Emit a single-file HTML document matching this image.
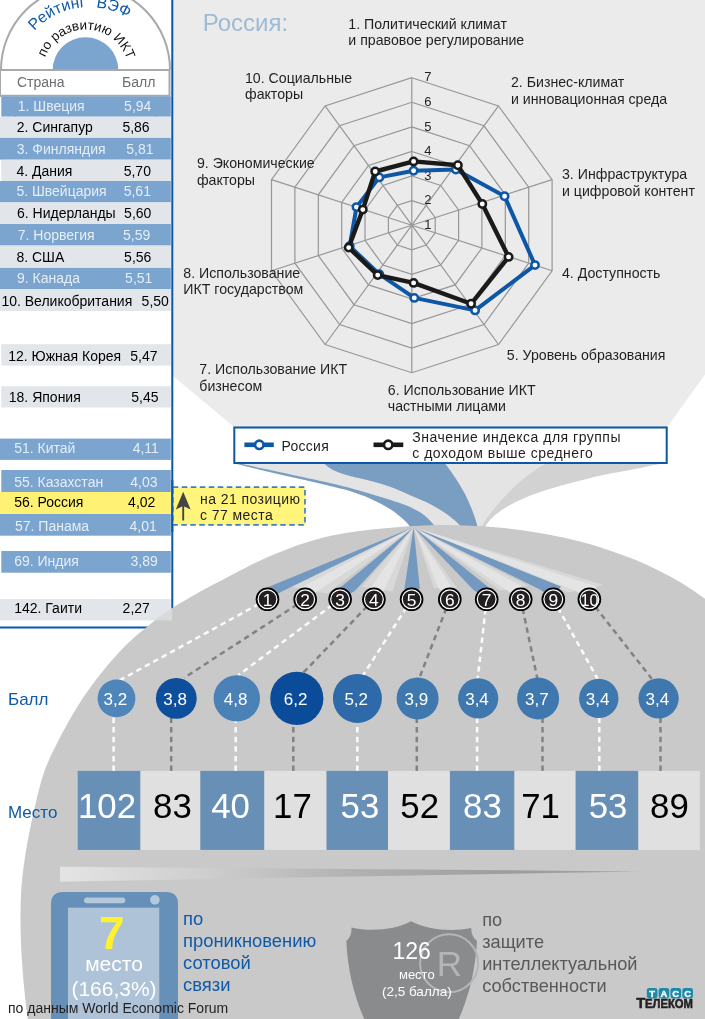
<!DOCTYPE html>
<html lang="ru"><head><meta charset="utf-8"><title>Рейтинг ВЭФ по развитию ИКТ</title>
<style>
html,body{margin:0;padding:0;background:#fff;}
body{width:705px;height:1019px;overflow:hidden;font-family:"Liberation Sans",Arial,sans-serif;}
svg{display:block;}
text{font-family:"Liberation Sans",Arial,sans-serif;}
</style></head><body>
<svg width="705" height="1019" viewBox="0 0 705 1019">
<defs>
<linearGradient id="barg" x1="0" x2="1" y1="0" y2="0"><stop offset="0" stop-color="#e4e4e4"/><stop offset="0.25" stop-color="#cecece"/><stop offset="0.5" stop-color="#b2b2b2"/><stop offset="0.78" stop-color="#9c9c9c"/><stop offset="1" stop-color="#a6a6a6"/></linearGradient>
<clipPath id="ell"><path d="M30.0,1030.0 C29.4,1026.8 27.9,1021.0 26.7,1011.0 C25.5,1001.0 23.6,983.7 22.6,970.0 C21.6,956.3 20.8,942.7 20.6,929.0 C20.4,915.3 20.4,901.5 21.4,887.8 C22.4,874.1 24.2,861.3 26.7,846.7 C29.2,832.1 33.5,812.8 36.5,800.0 C39.5,787.2 41.7,779.0 45.0,769.8 C48.3,760.6 52.5,752.5 56.3,744.8 C60.1,737.0 63.5,730.7 67.7,723.3 C71.9,715.9 76.8,707.6 81.3,700.6 C85.8,693.6 90.0,687.8 94.9,681.3 C99.8,674.8 105.0,668.1 110.8,661.5 C116.6,654.9 123.5,647.5 129.5,641.8 C135.4,636.1 141.6,631.3 146.5,627.3 C151.4,623.2 154.6,620.6 158.8,617.5 C163.0,614.4 166.9,611.6 171.5,608.6 C176.1,605.6 181.1,602.7 186.5,599.5 C191.9,596.3 198.7,592.4 204.0,589.5 C209.3,586.6 213.6,584.5 218.4,582.0 C223.2,579.5 227.9,577.0 232.6,574.5 C237.3,572.0 242.0,569.6 246.7,567.2 C251.4,564.8 256.2,562.5 260.9,560.3 C265.6,558.1 270.2,556.0 275.1,554.0 C280.0,552.0 285.9,549.8 290.0,548.2 C294.1,546.6 293.0,546.7 300.0,544.6 C307.0,542.5 321.0,538.0 332.0,535.6 C343.0,533.2 354.7,531.6 366.0,530.2 C377.3,528.8 387.7,527.9 400.0,527.0 C412.3,526.1 425.8,525.1 440.0,525.0 C454.2,524.9 472.1,525.8 485.4,526.6 C498.7,527.4 510.1,528.8 520.0,530.0 C529.9,531.2 537.0,532.6 545.0,534.0 C553.0,535.4 560.1,536.9 567.7,538.6 C575.3,540.3 582.8,542.1 590.4,544.3 C598.0,546.5 605.5,549.1 613.1,551.7 C620.7,554.3 628.2,557.0 635.8,560.1 C643.4,563.2 650.9,566.6 658.5,570.4 C666.1,574.2 673.5,578.1 681.2,582.8 C689.0,587.5 696.9,593.0 705.0,598.7 C713.1,604.4 725.8,614.0 730.0,617.0 L730,1030 Z"/></clipPath>
</defs>
<rect width="705" height="1019" fill="#fff"/>

<g id="funnel">
<path d="M173,0 L705,0 L705,374.5 L667.6,426.4 L667.6,450 L233.8,450 L233.8,426.7 L173,376 Z" fill="#ebebeb"/>
<path d="M666.7,462.5 C661.4,463.6 645.6,466.9 635.0,469.0 C624.4,471.1 614.1,472.6 603.3,475.0 C592.5,477.4 581.1,480.2 570.0,483.3 C558.9,486.4 546.7,489.7 536.7,493.3 C526.7,496.9 517.2,501.1 510.0,505.0 C502.8,508.9 497.5,513.1 493.3,516.7 C489.1,520.3 486.6,524.2 485.0,526.7 C483.4,529.2 483.8,531.1 483.5,532.0 L470,532 L470,455 L666.7,455 Z" fill="#d2d2d2"/>
<path d="M548.0,462.0 C545.7,463.5 538.7,467.7 534.0,471.0 C529.3,474.3 524.2,478.2 520.0,481.7 C515.8,485.2 512.3,488.7 509.0,492.0 C505.7,495.3 502.8,498.5 500.0,501.7 C497.2,504.9 494.7,508.2 492.5,511.0 C490.3,513.8 488.5,515.7 486.7,518.3 C484.9,520.9 482.7,524.4 481.7,526.7 C480.7,529.0 480.7,531.1 480.5,532.0 L405,532 L411.0,532.0 C410.7,531.0 410.7,528.2 409.4,526.0 C408.1,523.8 406.2,521.8 403.0,519.0 C399.8,516.2 395.5,512.4 390.0,509.0 C384.5,505.6 376.7,501.5 370.0,498.5 C363.3,495.5 356.7,493.1 350.0,491.0 C343.3,488.9 337.5,487.8 330.0,486.0 C322.5,484.2 313.3,481.9 305.0,480.0 C296.7,478.1 288.3,476.3 280.0,474.4 C271.7,472.5 262.7,470.4 255.0,468.5 C247.3,466.6 237.5,464.2 234.0,463.3 L234,450 L548,450 Z" fill="#e4e4e4"/>
<path d="M234.0,463.3 C237.5,464.2 247.3,466.6 255.0,468.5 C262.7,470.4 271.7,472.5 280.0,474.4 C288.3,476.3 296.7,478.1 305.0,480.0 C313.3,481.9 322.5,484.2 330.0,486.0 C337.5,487.8 343.3,488.9 350.0,491.0 C356.7,493.1 363.3,495.5 370.0,498.5 C376.7,501.5 384.5,505.6 390.0,509.0 C395.5,512.4 399.8,516.2 403.0,519.0 C406.2,521.8 408.1,523.8 409.4,526.0 C410.7,528.2 410.7,531.0 411.0,532.0 L437.0,532.0 C436.6,531.0 436.8,528.8 434.6,526.0 C432.4,523.2 428.3,518.2 424.0,515.0 C419.7,511.8 414.7,509.2 409.0,506.6 C403.3,504.1 396.5,501.9 390.0,499.7 C383.5,497.5 376.7,495.6 370.0,493.7 C363.3,491.8 356.7,489.8 350.0,488.0 C343.3,486.2 338.3,484.9 330.0,483.0 C321.7,481.1 310.0,478.7 300.0,476.5 C290.0,474.3 281.0,472.3 270.0,470.0 C259.0,467.7 240.0,463.8 234.0,462.6 Z" fill="#7a9ec2"/>
<path d="M322.0,462.0 C324.0,463.4 329.3,468.2 334.0,470.5 C338.7,472.8 344.0,474.3 350.0,476.0 C356.0,477.7 363.3,479.0 370.0,480.8 C376.7,482.6 383.5,484.5 390.0,486.8 C396.5,489.1 402.3,491.8 409.0,494.7 C415.7,497.6 423.5,500.6 430.0,504.0 C436.5,507.4 442.9,511.3 448.0,515.0 C453.1,518.7 457.9,523.2 460.4,526.0 C462.9,528.8 462.6,531.0 463.0,532.0 L478.5,532.0 C478.3,531.0 478.1,528.8 477.3,526.0 C476.6,523.2 475.2,518.5 474.0,515.0 C472.8,511.5 471.4,508.3 470.0,505.0 C468.6,501.7 467.2,498.3 465.5,495.0 C463.8,491.7 462.1,488.7 459.8,485.0 C457.6,481.3 454.6,476.8 452.0,473.0 C449.4,469.2 445.3,463.8 444.0,462.0 Z" fill="#7a9ec2"/>
</g>
<g id="table">
<rect x="0" y="0" width="171" height="627.5" fill="#fff"/>
<circle cx="85.5" cy="70" r="84.5" fill="#fff" stroke="#a7a9ac" stroke-width="2"/>
<path d="M52.7,70 A32.8,32.8 0 0 1 118.3,70 Z" fill="#7ba4cf"/>
<rect x="0" y="69.4" width="171" height="27" fill="#fff"/>
<path d="M0,70.1 L170.5,70.1 M0,95.7 L170.5,95.7 M169.5,69.1 L169.5,96.7" stroke="#a7a9ac" stroke-width="2" fill="none"/>
<path d="M0.5,69.1 L0.5,96.7" stroke="#a7a9ac" stroke-width="1" fill="none"/>
<text x="17" y="86.8" font-size="14" fill="#6d6e71">Страна</text>
<text x="122" y="86.8" font-size="14" fill="#6d6e71">Балл</text>
<path id="arc1" d="M15,81 A74,74 0 0 1 163,81" fill="none"/>
<path id="arc2" d="M42.2,73 A43.5,43.5 0 0 1 129.2,73" fill="none"/>
<text font-size="15.8" fill="#0f5aa8"><textPath href="#arc1" startOffset="23.6%">Рейтинг</textPath></text>
<text font-size="15.8" fill="#0f5aa8"><textPath href="#arc1" startOffset="53%">ВЭФ</textPath></text>
<text font-size="13.4" fill="#111"><textPath href="#arc2" startOffset="50.8%" text-anchor="middle">по развитию ИКТ</textPath></text>
<rect x="1.3" y="96.4" width="169.5" height="20.3" fill="#7ba4cf"/>
<text x="17.8" y="111.3" font-size="14" fill="#e4eef8">1. Швеция</text>
<text x="124.1" y="111.3" font-size="14" fill="#e4eef8">5,94</text>
<rect x="0" y="116.7" width="170.8" height="21.2" fill="#e2e6ea"/>
<text x="16.8" y="131.7" font-size="14" fill="#000">2. Сингапур</text>
<text x="122.4" y="131.7" font-size="14" fill="#000">5,86</text>
<rect x="0" y="137.9" width="170.8" height="21.8" fill="#7ba4cf"/>
<text x="16.8" y="154.4" font-size="14" fill="#e4eef8">3. Финляндия</text>
<text x="126.3" y="154.4" font-size="14" fill="#e4eef8">5,81</text>
<rect x="1.3" y="159.7" width="169.5" height="21.3" fill="#e2e6ea"/>
<text x="16.4" y="175.8" font-size="14" fill="#000">4. Дания</text>
<text x="123.7" y="175.8" font-size="14" fill="#000">5,70</text>
<rect x="0" y="181.0" width="170.8" height="21.4" fill="#7ba4cf"/>
<text x="16.4" y="196.4" font-size="14" fill="#e4eef8">5. Швейцария</text>
<text x="123.7" y="196.4" font-size="14" fill="#e4eef8">5,61</text>
<rect x="0" y="202.4" width="170.8" height="21.6" fill="#e2e6ea"/>
<text x="17" y="217.6" font-size="14" fill="#000">6. Нидерланды</text>
<text x="124.1" y="217.6" font-size="14" fill="#000">5,60</text>
<rect x="0" y="224.0" width="170.8" height="21.6" fill="#7ba4cf"/>
<text x="17.8" y="239.9" font-size="14" fill="#e4eef8">7. Норвегия</text>
<text x="123" y="239.9" font-size="14" fill="#e4eef8">5,59</text>
<rect x="0" y="245.6" width="170.8" height="22.3" fill="#e2e6ea"/>
<text x="16.4" y="262.2" font-size="14" fill="#000">8. США</text>
<text x="124.1" y="262.2" font-size="14" fill="#000">5,56</text>
<rect x="0" y="267.9" width="170.8" height="21.4" fill="#7ba4cf"/>
<text x="17" y="282.6" font-size="14" fill="#e4eef8">9. Канада</text>
<text x="125.1" y="282.6" font-size="14" fill="#e4eef8">5,51</text>
<rect x="0" y="289.3" width="170.8" height="21.7" fill="#e2e6ea"/>
<text x="1.4" y="306" font-size="14" fill="#000">10. Великобритания</text>
<text x="141.6" y="306" font-size="14" fill="#000">5,50</text>
<rect x="1.3" y="344.2" width="169.5" height="21.4" fill="#e2e6ea"/>
<text x="8.2" y="360.6" font-size="14" fill="#000">12. Южная Корея</text>
<text x="130.3" y="360.6" font-size="14" fill="#000">5,47</text>
<rect x="1.3" y="386.2" width="169.5" height="21.3" fill="#e2e6ea"/>
<text x="8.8" y="402.3" font-size="14" fill="#000">18. Япония</text>
<text x="131.3" y="402.3" font-size="14" fill="#000">5,45</text>
<rect x="0" y="438.6" width="170.8" height="21.3" fill="#7ba4cf"/>
<text x="14.2" y="452.8" font-size="14" fill="#e4eef8">51. Китай</text>
<text x="132.7" y="452.8" font-size="14" fill="#e4eef8">4,11</text>
<rect x="1.3" y="470.0" width="169.5" height="22.0" fill="#7ba4cf"/>
<text x="14.2" y="486.6" font-size="14" fill="#e4eef8">55. Казахстан</text>
<text x="130.3" y="486.6" font-size="14" fill="#e4eef8">4,03</text>
<rect x="0" y="492.0" width="170.8" height="22.0" fill="#fff173"/>
<text x="14.2" y="507.2" font-size="14" fill="#000">56. Россия</text>
<text x="128.1" y="507.2" font-size="14" fill="#000">4,02</text>
<rect x="0" y="514.0" width="170.8" height="21.7" fill="#7ba4cf"/>
<text x="15" y="530.7" font-size="14" fill="#e4eef8">57. Панама</text>
<text x="129.5" y="530.7" font-size="14" fill="#e4eef8">4,01</text>
<rect x="1.3" y="551.0" width="169.5" height="21.7" fill="#7ba4cf"/>
<text x="14.2" y="566" font-size="14" fill="#e4eef8">69. Индия</text>
<text x="130.5" y="566" font-size="14" fill="#e4eef8">3,89</text>
<path d="M172.3,0 L172.3,627.5 L0,627.5" stroke="#0d57a6" stroke-width="2" fill="none"/>
</g>
<rect x="0" y="599.1" width="170.8" height="21.3" fill="#e2e6ea"/>
<path d="M30.0,1030.0 C29.4,1026.8 27.9,1021.0 26.7,1011.0 C25.5,1001.0 23.6,983.7 22.6,970.0 C21.6,956.3 20.8,942.7 20.6,929.0 C20.4,915.3 20.4,901.5 21.4,887.8 C22.4,874.1 24.2,861.3 26.7,846.7 C29.2,832.1 33.5,812.8 36.5,800.0 C39.5,787.2 41.7,779.0 45.0,769.8 C48.3,760.6 52.5,752.5 56.3,744.8 C60.1,737.0 63.5,730.7 67.7,723.3 C71.9,715.9 76.8,707.6 81.3,700.6 C85.8,693.6 90.0,687.8 94.9,681.3 C99.8,674.8 105.0,668.1 110.8,661.5 C116.6,654.9 123.5,647.5 129.5,641.8 C135.4,636.1 141.6,631.3 146.5,627.3 C151.4,623.2 154.6,620.6 158.8,617.5 C163.0,614.4 166.9,611.6 171.5,608.6 C176.1,605.6 181.1,602.7 186.5,599.5 C191.9,596.3 198.7,592.4 204.0,589.5 C209.3,586.6 213.6,584.5 218.4,582.0 C223.2,579.5 227.9,577.0 232.6,574.5 C237.3,572.0 242.0,569.6 246.7,567.2 C251.4,564.8 256.2,562.5 260.9,560.3 C265.6,558.1 270.2,556.0 275.1,554.0 C280.0,552.0 285.9,549.8 290.0,548.2 C294.1,546.6 293.0,546.7 300.0,544.6 C307.0,542.5 321.0,538.0 332.0,535.6 C343.0,533.2 354.7,531.6 366.0,530.2 C377.3,528.8 387.7,527.9 400.0,527.0 C412.3,526.1 425.8,525.1 440.0,525.0 C454.2,524.9 472.1,525.8 485.4,526.6 C498.7,527.4 510.1,528.8 520.0,530.0 C529.9,531.2 537.0,532.6 545.0,534.0 C553.0,535.4 560.1,536.9 567.7,538.6 C575.3,540.3 582.8,542.1 590.4,544.3 C598.0,546.5 605.5,549.1 613.1,551.7 C620.7,554.3 628.2,557.0 635.8,560.1 C643.4,563.2 650.9,566.6 658.5,570.4 C666.1,574.2 673.5,578.1 681.2,582.8 C689.0,587.5 696.9,593.0 705.0,598.7 C713.1,604.4 725.8,614.0 730.0,617.0 L730,1030 Z" fill="#c9c9c9"/>
<rect x="0" y="599.1" width="172" height="21.3" fill="#e2e6ea" opacity="0.6" clip-path="url(#ell)"/>
<text x="14.2" y="613.3" font-size="14" fill="#000">142. Гаити</text>
<text x="122.6" y="613.3" font-size="14" fill="#000">2,27</text>
<path d="M413.6,527.2 L289.5,586.3 L327.2,593.6 Z" fill="#d8d8d8"/>
<path d="M413.6,527.2 L361.6,587.1 L392.4,591.5 Z" fill="#d8d8d8"/>
<path d="M413.6,527.2 L434.0,588.0 L456.8,588.0 Z" fill="#d8d8d8"/>
<path d="M413.6,527.2 L500.0,590.5 L527.8,585.5 Z" fill="#d8d8d8"/>
<path d="M413.6,527.2 L568.4,592.6 L603.9,584.9 Z" fill="#d8d8d8"/>
<path d="M413.6,527.2 L265.3,588.3 L267.5,599.3 L281.9,591.6 Z" fill="#7399c0"/>
<path d="M413.6,527.2 L299.8,588.3 L305.2,599.3 L316.9,591.6 Z" fill="#e4e4e4"/>
<path d="M413.6,527.2 L339.4,588.3 L340.1,599.3 L354.7,591 Z" fill="#7399c0"/>
<path d="M413.6,527.2 L370,588.3 L373.9,599.3 L384,590.3 Z" fill="#e4e4e4"/>
<path d="M413.6,527.2 L404.5,588.3 L411.6,599.3 L419.8,588.3 Z" fill="#7399c0"/>
<path d="M413.6,527.2 L438.7,588 L449.8,599.3 L452.1,588 Z" fill="#e4e4e4"/>
<path d="M413.6,527.2 L473,589.5 L486.7,599.3 L489.4,588 Z" fill="#7399c0"/>
<path d="M413.6,527.2 L505.7,589.5 L520.7,599.3 L522.1,586.5 Z" fill="#e4e4e4"/>
<path d="M413.6,527.2 L540,589.5 L553.3,599.3 L560.9,586.5 Z" fill="#7399c0"/>
<path d="M413.6,527.2 L575.7,591 L589.4,599.3 L596.6,586.5 Z" fill="#e4e4e4"/>
<path d="M267.5,599.3 L118.2,681.1" stroke="#fbfbfb" stroke-width="2.5" stroke-dasharray="5.5,4.1" fill="none"/>
<path d="M113.6,771 L113.6,714.3" stroke="#fbfbfb" stroke-width="2.5" stroke-dasharray="5.5,4.1" fill="none"/>
<path d="M305.2,599.3 L184.2,677.8" stroke="#828282" stroke-width="2.5" stroke-dasharray="5.5,4.1" fill="none"/>
<path d="M171.2,771 L171.2,715.8" stroke="#828282" stroke-width="2.5" stroke-dasharray="5.5,4.1" fill="none"/>
<path d="M340.1,599.3 L238.5,675.0" stroke="#fbfbfb" stroke-width="2.5" stroke-dasharray="5.5,4.1" fill="none"/>
<path d="M235.7,771 L235.7,718.6" stroke="#fbfbfb" stroke-width="2.5" stroke-dasharray="5.5,4.1" fill="none"/>
<path d="M373.9,599.3 L302.7,673.3" stroke="#828282" stroke-width="2.5" stroke-dasharray="5.5,4.1" fill="none"/>
<path d="M293.3,771 L293.3,722.0" stroke="#828282" stroke-width="2.5" stroke-dasharray="5.5,4.1" fill="none"/>
<path d="M411.6,599.3 L362.6,676.0" stroke="#fbfbfb" stroke-width="2.5" stroke-dasharray="5.5,4.1" fill="none"/>
<path d="M357.3,771 L357.3,719.9" stroke="#fbfbfb" stroke-width="2.5" stroke-dasharray="5.5,4.1" fill="none"/>
<path d="M449.8,599.3 L417.8,682.0" stroke="#828282" stroke-width="2.5" stroke-dasharray="5.5,4.1" fill="none"/>
<path d="M416.8,771 L416.8,716.4" stroke="#828282" stroke-width="2.5" stroke-dasharray="5.5,4.1" fill="none"/>
<path d="M486.7,599.3 L477.2,682.3" stroke="#fbfbfb" stroke-width="2.5" stroke-dasharray="5.5,4.1" fill="none"/>
<path d="M477.1,771 L477.1,715.5" stroke="#fbfbfb" stroke-width="2.5" stroke-dasharray="5.5,4.1" fill="none"/>
<path d="M520.7,599.3 L537.4,678.7" stroke="#828282" stroke-width="2.5" stroke-dasharray="5.5,4.1" fill="none"/>
<path d="M542.5,771 L542.5,716.4" stroke="#828282" stroke-width="2.5" stroke-dasharray="5.5,4.1" fill="none"/>
<path d="M553.3,599.3 L599.2,681.8" stroke="#fbfbfb" stroke-width="2.5" stroke-dasharray="5.5,4.1" fill="none"/>
<path d="M599.3,771 L599.3,715.1" stroke="#fbfbfb" stroke-width="2.5" stroke-dasharray="5.5,4.1" fill="none"/>
<path d="M589.4,599.3 L651.7,678.7" stroke="#828282" stroke-width="2.5" stroke-dasharray="5.5,4.1" fill="none"/>
<path d="M660.5,771 L660.5,715.5" stroke="#828282" stroke-width="2.5" stroke-dasharray="5.5,4.1" fill="none"/>
<circle cx="267.5" cy="599.3" r="11.8" fill="#000"/>
<circle cx="267.5" cy="599.3" r="9.4" fill="#231f20" stroke="#fff" stroke-width="1.25"/>
<text x="267.5" y="605.5" font-size="17.4" fill="#fff" text-anchor="middle">1</text>
<circle cx="305.2" cy="599.3" r="11.8" fill="#000"/>
<circle cx="305.2" cy="599.3" r="9.4" fill="#231f20" stroke="#fff" stroke-width="1.25"/>
<text x="305.2" y="605.5" font-size="17.4" fill="#fff" text-anchor="middle">2</text>
<circle cx="340.1" cy="599.3" r="11.8" fill="#000"/>
<circle cx="340.1" cy="599.3" r="9.4" fill="#231f20" stroke="#fff" stroke-width="1.25"/>
<text x="340.1" y="605.5" font-size="17.4" fill="#fff" text-anchor="middle">3</text>
<circle cx="373.9" cy="599.3" r="11.8" fill="#000"/>
<circle cx="373.9" cy="599.3" r="9.4" fill="#231f20" stroke="#fff" stroke-width="1.25"/>
<text x="373.9" y="605.5" font-size="17.4" fill="#fff" text-anchor="middle">4</text>
<circle cx="411.6" cy="599.3" r="11.8" fill="#000"/>
<circle cx="411.6" cy="599.3" r="9.4" fill="#231f20" stroke="#fff" stroke-width="1.25"/>
<text x="411.6" y="605.5" font-size="17.4" fill="#fff" text-anchor="middle">5</text>
<circle cx="449.8" cy="599.3" r="11.8" fill="#000"/>
<circle cx="449.8" cy="599.3" r="9.4" fill="#231f20" stroke="#fff" stroke-width="1.25"/>
<text x="449.8" y="605.5" font-size="17.4" fill="#fff" text-anchor="middle">6</text>
<circle cx="486.7" cy="599.3" r="11.8" fill="#000"/>
<circle cx="486.7" cy="599.3" r="9.4" fill="#231f20" stroke="#fff" stroke-width="1.25"/>
<text x="486.7" y="605.5" font-size="17.4" fill="#fff" text-anchor="middle">7</text>
<circle cx="520.7" cy="599.3" r="11.8" fill="#000"/>
<circle cx="520.7" cy="599.3" r="9.4" fill="#231f20" stroke="#fff" stroke-width="1.25"/>
<text x="520.7" y="605.5" font-size="17.4" fill="#fff" text-anchor="middle">8</text>
<circle cx="553.3" cy="599.3" r="11.8" fill="#000"/>
<circle cx="553.3" cy="599.3" r="9.4" fill="#231f20" stroke="#fff" stroke-width="1.25"/>
<text x="553.3" y="605.5" font-size="17.4" fill="#fff" text-anchor="middle">9</text>
<circle cx="589.4" cy="599.3" r="11.8" fill="#000"/>
<circle cx="589.4" cy="599.3" r="9.4" fill="#231f20" stroke="#fff" stroke-width="1.25"/>
<text x="580.4" y="605.5" font-size="17.4" fill="#fff" textLength="18" lengthAdjust="spacingAndGlyphs">10</text>
<circle cx="116.5" cy="698.4" r="18.9" fill="#4f86b9"/>
<text x="115.3" y="705" font-size="17" fill="#fff" text-anchor="middle">3,2</text>
<circle cx="176.3" cy="698.4" r="20.4" fill="#0d4f9c"/>
<text x="175.1" y="705" font-size="17" fill="#fff" text-anchor="middle">3,8</text>
<circle cx="236.8" cy="698.4" r="23.2" fill="#4a82b7"/>
<text x="235.6" y="705" font-size="17" fill="#fff" text-anchor="middle">4,8</text>
<circle cx="296.8" cy="698.4" r="26.6" fill="#0a4c99"/>
<text x="295.6" y="705" font-size="17" fill="#fff" text-anchor="middle">6,2</text>
<circle cx="357.4" cy="698.4" r="24.5" fill="#2e6aa9"/>
<text x="356.2" y="705" font-size="17" fill="#fff" text-anchor="middle">5,2</text>
<circle cx="417.6" cy="698.4" r="21" fill="#3f78af"/>
<text x="416.4" y="705" font-size="17" fill="#fff" text-anchor="middle">3,9</text>
<circle cx="478.2" cy="698.4" r="20.1" fill="#3f78af"/>
<text x="477.0" y="705" font-size="17" fill="#fff" text-anchor="middle">3,4</text>
<circle cx="538.1" cy="698.4" r="21" fill="#3f78af"/>
<text x="536.9" y="705" font-size="17" fill="#fff" text-anchor="middle">3,7</text>
<circle cx="598.8" cy="698.4" r="19.7" fill="#3f78af"/>
<text x="597.6" y="705" font-size="17" fill="#fff" text-anchor="middle">3,4</text>
<circle cx="658.6" cy="698.4" r="20.1" fill="#3f78af"/>
<text x="657.4" y="705" font-size="17" fill="#fff" text-anchor="middle">3,4</text>
<rect x="77.7" y="770.9" width="63.00" height="79" fill="#6890b7"/>
<text x="107" y="818.1" font-size="34.8" fill="#fff" text-anchor="middle">102</text>
<rect x="140.4" y="770.9" width="60.20" height="79" fill="#e0e0e0"/>
<text x="172.4" y="818.1" font-size="34.8" fill="#000" text-anchor="middle">83</text>
<rect x="200.3" y="770.9" width="64.30" height="79" fill="#6890b7"/>
<text x="230.5" y="818.1" font-size="34.8" fill="#fff" text-anchor="middle">40</text>
<rect x="264.3" y="770.9" width="62.50" height="79" fill="#e0e0e0"/>
<text x="292.4" y="818.1" font-size="34.8" fill="#000" text-anchor="middle">17</text>
<rect x="326.5" y="770.9" width="61.80" height="79" fill="#6890b7"/>
<text x="359.9" y="818.1" font-size="34.8" fill="#fff" text-anchor="middle">53</text>
<rect x="388" y="770.9" width="62.20" height="79" fill="#e0e0e0"/>
<text x="419.7" y="818.1" font-size="34.8" fill="#000" text-anchor="middle">52</text>
<rect x="449.9" y="770.9" width="64.80" height="79" fill="#6890b7"/>
<text x="482.4" y="818.1" font-size="34.8" fill="#fff" text-anchor="middle">83</text>
<rect x="514.4" y="770.9" width="61.50" height="79" fill="#e0e0e0"/>
<text x="540.5" y="818.1" font-size="34.8" fill="#000" text-anchor="middle">71</text>
<rect x="575.6" y="770.9" width="63.00" height="79" fill="#6890b7"/>
<text x="608.1" y="818.1" font-size="34.8" fill="#fff" text-anchor="middle">53</text>
<rect x="638.3" y="770.9" width="61.60" height="79" fill="#e0e0e0"/>
<text x="669.4" y="818.1" font-size="34.8" fill="#000" text-anchor="middle">89</text>
<text x="8" y="705" font-size="17" fill="#0f5aa8">Балл</text>
<text x="8" y="818" font-size="17" fill="#0f5aa8">Место</text>
<path d="M60,866.8 L640,871.4 L60,881.8 Z" fill="url(#barg)"/>
<path d="M51,1019 L51,904 Q51,892 63,892 L166,892 Q178,892 178,904 L178,1019 Z" fill="#6690b8"/>
<rect x="68" y="907.7" width="91.3" height="112" fill="#aec3d8"/>
<rect x="84" y="897.4" width="41.3" height="5.8" rx="2.9" fill="#b5c8dc"/>
<circle cx="154.9" cy="899.8" r="4.8" fill="#b5c8dc"/>
<text x="111.7" y="949.2" font-size="46" font-weight="bold" fill="#fff22d" text-anchor="middle">7</text>
<text x="114" y="970.6" font-size="21" fill="#fff" text-anchor="middle">место</text>
<text x="114" y="996.2" font-size="21" fill="#fff" text-anchor="middle">(166,3%)</text>
<text x="183" y="925.4" font-size="18.4" fill="#0f5aa8">по</text>
<text x="183" y="947.1" font-size="18.4" fill="#0f5aa8">проникновению</text>
<text x="183" y="968.8" font-size="18.4" fill="#0f5aa8">сотовой</text>
<text x="183" y="990.5" font-size="18.4" fill="#0f5aa8">связи</text>
<path d="M411,921.3 C395,930 370,932 351.4,927.4 C352,933 350,938 346.3,941 C348,975 356,1005 372,1035 L451,1035 C467,1005 475,975 477,941 C473,938 471,933 471.3,928.1 C452,932 427,930 411,921.3 Z" fill="#8a8b8d"/>
<circle cx="449.1" cy="963.2" r="29" fill="none" stroke="#b4b5b7" stroke-width="2"/>
<text x="449.5" y="975.5" font-size="35" fill="#b4b5b7" text-anchor="middle">R</text>
<text x="411.7" y="959.1" font-size="23" fill="#fff" text-anchor="middle">126</text>
<text x="416.8" y="979.2" font-size="13" fill="#fff" text-anchor="middle">место</text>
<text x="416.8" y="995.5" font-size="13.5" fill="#fff" text-anchor="middle">(2,5 балла)</text>
<text x="482.2" y="925.6" font-size="18.2" fill="#58595b">по</text>
<text x="482.2" y="947.6" font-size="18.2" fill="#58595b">защите</text>
<text x="482.2" y="969.6" font-size="18.2" fill="#58595b">интеллектуальной</text>
<text x="482.2" y="991.6" font-size="18.2" fill="#58595b">собственности</text>
<text x="8" y="1013" font-size="14" fill="#231f20">по данным World Economic Forum</text>
<rect x="646.80" y="988" width="10.6" height="10.5" rx="2.4" fill="#1b8aaa"/>
<text x="652.10" y="996.9" font-size="9.5" font-weight="bold" fill="#fff" stroke="#fff" stroke-width="0.3" text-anchor="middle">Т</text>
<rect x="658.65" y="988" width="10.6" height="10.5" rx="2.4" fill="#1b8aaa"/>
<text x="663.95" y="996.9" font-size="9.5" font-weight="bold" fill="#fff" stroke="#fff" stroke-width="0.3" text-anchor="middle">А</text>
<rect x="670.50" y="988" width="10.6" height="10.5" rx="2.4" fill="#1b8aaa"/>
<text x="675.80" y="996.9" font-size="9.5" font-weight="bold" fill="#fff" stroke="#fff" stroke-width="0.3" text-anchor="middle">С</text>
<rect x="682.35" y="988" width="10.6" height="10.5" rx="2.4" fill="#1b8aaa"/>
<text x="687.65" y="996.9" font-size="9.5" font-weight="bold" fill="#fff" stroke="#fff" stroke-width="0.3" text-anchor="middle">С</text>
<text x="636.3" y="1008.3" font-size="15.5" font-weight="bold" fill="#231f20" stroke="#231f20" stroke-width="0.5" textLength="9" lengthAdjust="spacingAndGlyphs">Т</text>
<text x="645" y="1008.3" font-size="12.2" font-weight="bold" fill="#231f20" stroke="#231f20" stroke-width="0.5" textLength="48" lengthAdjust="spacingAndGlyphs">ЕЛЕКОМ</text>
<rect x="172.8" y="487.2" width="132.2" height="37.6" fill="#fff57a" stroke="#3f7fc1" stroke-width="1.7" stroke-dasharray="5.5,3.5"/>
<path d="M183.2,520.5 L183.2,503" stroke="#454547" stroke-width="1.9"/><path d="M175.8,509.5 L183.2,491.8 L190.6,509.5 L183.2,506 Z" fill="#454547"/>
<text x="200" y="503.6" font-size="14" fill="#231f20" letter-spacing="0.44">на 21 позицию</text>
<text x="200" y="519.8" font-size="14" fill="#231f20" letter-spacing="0.44">с 77 места</text>
<path d="M172.3,480 L172.3,532" stroke="#0d57a6" stroke-width="2" fill="none"/>
<g id="radar">
<polygon points="411.8,200.6 426.2,205.3 435.2,217.6 435.2,232.8 426.2,245.1 411.8,249.8 397.4,245.1 388.4,232.8 388.4,217.6 397.4,205.3" fill="none" stroke="#969799" stroke-width="1.2"/>
<polygon points="411.8,176.0 440.7,185.4 458.6,210.0 458.6,240.4 440.7,265.0 411.8,274.4 382.9,265.0 365.0,240.4 365.0,210.0 382.9,185.4" fill="none" stroke="#969799" stroke-width="1.2"/>
<polygon points="411.8,151.5 455.1,165.5 481.9,202.4 481.9,248.0 455.1,284.9 411.8,298.9 368.5,284.9 341.7,248.0 341.7,202.4 368.5,165.5" fill="none" stroke="#969799" stroke-width="1.2"/>
<polygon points="411.8,126.9 469.6,145.7 505.3,194.8 505.3,255.6 469.6,304.7 411.8,323.5 354.0,304.7 318.3,255.6 318.3,194.8 354.0,145.7" fill="none" stroke="#969799" stroke-width="1.2"/>
<polygon points="411.8,102.3 484.0,125.8 528.7,187.2 528.7,263.2 484.0,324.6 411.8,348.1 339.6,324.6 294.9,263.2 294.9,187.2 339.6,125.8" fill="none" stroke="#969799" stroke-width="1.2"/>
<polygon points="411.8,77.7 498.5,105.9 552.1,179.6 552.1,270.8 498.5,344.5 411.8,372.7 325.1,344.5 271.5,270.8 271.5,179.6 325.1,105.9" fill="none" stroke="#969799" stroke-width="1.2"/>
<path d="M411.8,225.2 L411.8,77.7" stroke="#969799" stroke-width="1.2"/>
<path d="M411.8,225.2 L498.5,105.9" stroke="#969799" stroke-width="1.2"/>
<path d="M411.8,225.2 L552.1,179.6" stroke="#969799" stroke-width="1.2"/>
<path d="M411.8,225.2 L552.1,270.8" stroke="#969799" stroke-width="1.2"/>
<path d="M411.8,225.2 L498.5,344.5" stroke="#969799" stroke-width="1.2"/>
<path d="M411.8,225.2 L411.8,372.7" stroke="#969799" stroke-width="1.2"/>
<path d="M411.8,225.2 L325.1,344.5" stroke="#969799" stroke-width="1.2"/>
<path d="M411.8,225.2 L271.5,270.8" stroke="#969799" stroke-width="1.2"/>
<path d="M411.8,225.2 L271.5,179.6" stroke="#969799" stroke-width="1.2"/>
<path d="M411.8,225.2 L325.1,105.9" stroke="#969799" stroke-width="1.2"/>
<text x="424.2" y="228.7" font-size="13" fill="#231f20">1</text>
<text x="424.2" y="204.3" font-size="13" fill="#231f20">2</text>
<text x="424.2" y="179.8" font-size="13" fill="#231f20">3</text>
<text x="424.2" y="154.9" font-size="13" fill="#231f20">4</text>
<text x="424.2" y="130.7" font-size="13" fill="#231f20">5</text>
<text x="424.2" y="105.6" font-size="13" fill="#231f20">6</text>
<text x="424.2" y="80.8" font-size="13" fill="#231f20">7</text>
<polygon points="413.6,170.8 455.8,169.6 504.6,196.3 535.0,265.1 475.1,310.4 414.3,297.9 379.3,274.2 349.7,246.1 356.5,207.1 379.3,177.4" fill="none" stroke="#0d57a6" stroke-width="4" stroke-linejoin="round"/>
<circle cx="413.6" cy="170.8" r="3.7" fill="#fff" stroke="#0d57a6" stroke-width="2.5"/>
<circle cx="455.8" cy="169.6" r="3.7" fill="#fff" stroke="#0d57a6" stroke-width="2.5"/>
<circle cx="504.6" cy="196.3" r="3.7" fill="#fff" stroke="#0d57a6" stroke-width="2.5"/>
<circle cx="535.0" cy="265.1" r="3.7" fill="#fff" stroke="#0d57a6" stroke-width="2.5"/>
<circle cx="475.1" cy="310.4" r="3.7" fill="#fff" stroke="#0d57a6" stroke-width="2.5"/>
<circle cx="414.3" cy="297.9" r="3.7" fill="#fff" stroke="#0d57a6" stroke-width="2.5"/>
<circle cx="379.3" cy="274.2" r="3.7" fill="#fff" stroke="#0d57a6" stroke-width="2.5"/>
<circle cx="349.7" cy="246.1" r="3.7" fill="#fff" stroke="#0d57a6" stroke-width="2.5"/>
<circle cx="356.5" cy="207.1" r="3.7" fill="#fff" stroke="#0d57a6" stroke-width="2.5"/>
<circle cx="379.3" cy="177.4" r="3.7" fill="#fff" stroke="#0d57a6" stroke-width="2.5"/>
<polygon points="413.6,161.4 457.9,165.3 482.3,204.0 508.6,256.9 471.1,303.8 413.6,282.9 377.7,275.1 348.7,247.6 362.8,209.6 375.2,171.5" fill="none" stroke="#1a1a1a" stroke-width="4.4" stroke-linejoin="round"/>
<circle cx="413.6" cy="161.4" r="3.7" fill="#fff" stroke="#1a1a1a" stroke-width="2.5"/>
<circle cx="457.9" cy="165.3" r="3.7" fill="#fff" stroke="#1a1a1a" stroke-width="2.5"/>
<circle cx="482.3" cy="204.0" r="3.7" fill="#fff" stroke="#1a1a1a" stroke-width="2.5"/>
<circle cx="508.6" cy="256.9" r="3.7" fill="#fff" stroke="#1a1a1a" stroke-width="2.5"/>
<circle cx="471.1" cy="303.8" r="3.7" fill="#fff" stroke="#1a1a1a" stroke-width="2.5"/>
<circle cx="413.6" cy="282.9" r="3.7" fill="#fff" stroke="#1a1a1a" stroke-width="2.5"/>
<circle cx="377.7" cy="275.1" r="3.7" fill="#fff" stroke="#1a1a1a" stroke-width="2.5"/>
<circle cx="348.7" cy="247.6" r="3.7" fill="#fff" stroke="#1a1a1a" stroke-width="2.5"/>
<circle cx="362.8" cy="209.6" r="3.7" fill="#fff" stroke="#1a1a1a" stroke-width="2.5"/>
<circle cx="375.2" cy="171.5" r="3.7" fill="#fff" stroke="#1a1a1a" stroke-width="2.5"/>
</g>
<text x="202.8" y="30.6" font-size="24" fill="#9dbad6">Россия:</text>
<text x="348.3" y="28.5" font-size="14.17" fill="#231f20">1. Политический климат</text>
<text x="348.3" y="45.2" font-size="14.17" fill="#231f20">и правовое регулирование</text>
<text x="511" y="87" font-size="14.17" fill="#231f20">2. Бизнес-климат</text>
<text x="511" y="104.2" font-size="14.17" fill="#231f20">и инновационная среда</text>
<text x="562" y="179.2" font-size="14.17" fill="#231f20">3. Инфраструктура</text>
<text x="562" y="196.1" font-size="14.17" fill="#231f20">и цифровой контент</text>
<text x="562" y="277.5" font-size="14.17" fill="#231f20">4. Доступность</text>
<text x="506.8" y="360.4" font-size="14.17" fill="#231f20">5. Уровень образования</text>
<text x="387.8" y="394.5" font-size="14.17" fill="#231f20">6. Использование ИКТ</text>
<text x="387.8" y="410.7" font-size="14.17" fill="#231f20">частными лицами</text>
<text x="199.3" y="374.1" font-size="14.17" fill="#231f20">7. Использование ИКТ</text>
<text x="199.3" y="390.7" font-size="14.17" fill="#231f20">бизнесом</text>
<text x="183.3" y="277.5" font-size="14.17" fill="#231f20">8. Использование</text>
<text x="183.3" y="294.1" font-size="14.17" fill="#231f20">ИКТ государством</text>
<text x="196.9" y="168.2" font-size="14.17" fill="#231f20">9. Экономические</text>
<text x="196.9" y="185.1" font-size="14.17" fill="#231f20">факторы</text>
<text x="245" y="83.1" font-size="14.17" fill="#231f20">10. Социальные</text>
<text x="245" y="98.8" font-size="14.17" fill="#231f20">факторы</text>
<rect x="234.3" y="427.5" width="432.4" height="35.5" fill="#fff" stroke="#0d57a6" stroke-width="2"/>
<path d="M244.4,444.8 L273.8,444.8" stroke="#0d57a6" stroke-width="4.6"/><circle cx="259.3" cy="444.8" r="4.2" fill="#fff" stroke="#0d57a6" stroke-width="2.6"/>
<text x="281.4" y="450.6" font-size="14" fill="#231f20" letter-spacing="0.3">Россия</text>
<path d="M373.5,444.8 L403.3,444.8" stroke="#1a1a1a" stroke-width="4.6"/><circle cx="388.2" cy="444.8" r="4.2" fill="#fff" stroke="#1a1a1a" stroke-width="2.6"/>
<text x="412.3" y="442" font-size="14" fill="#231f20" letter-spacing="0.5">Значение индекса для группы</text>
<text x="412.3" y="458.2" font-size="14" fill="#231f20" letter-spacing="0.5">с доходом выше среднего</text>
</svg></body></html>
